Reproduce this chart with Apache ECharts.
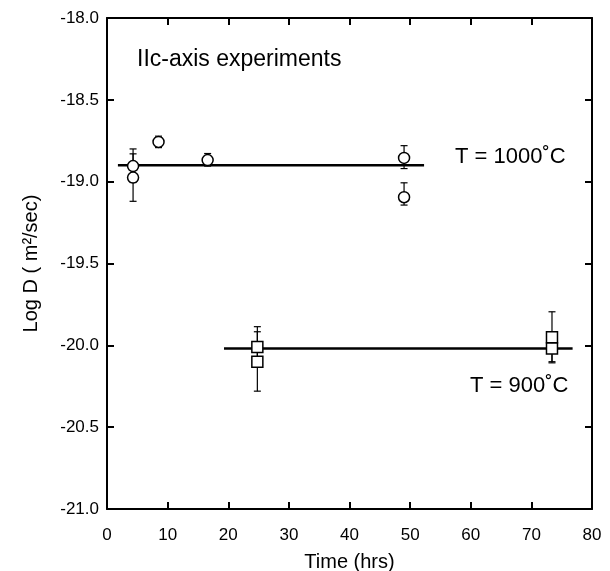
<!DOCTYPE html>
<html>
<head>
<meta charset="utf-8">
<script src="https://cdn.jsdelivr.net/npm/echarts@6/dist/echarts.min.js"></script>
<style>html,body{margin:0;padding:0;background:#fff}#c{width:610px;height:571px}</style>
</head>
<body>
<div id="c"></div>
<script>
// 1000 C experiments (circles)
const circleTime = [4.3, 4.3, 8.5, 16.6, 49.0, 49.0];
const circleLogD = [-18.905, -18.975, -18.757, -18.868, -18.855, -19.095];
const circleErrLow = [-19.005, -19.12, -18.792, -18.905, -18.92, -19.143];
const circleErrHigh = [-18.80, -18.83, -18.722, -18.828, -18.78, -19.007];
// 900 C experiments (squares)
const squareTime = [24.8, 24.8, 73.4, 73.4];
const squareLogD = [-20.01, -20.10, -19.95, -20.02];
const squareErrLow = [-20.13, -20.28, -20.10, -20.107];
const squareErrHigh = [-19.886, -19.917, -19.795, -19.93];
// fitted mean lines
const fit1000Time = [1.8, 52.3];
const fit1000LogD = [-18.90, -18.90];
const fit900Time = [19.3, 76.8];
const fit900LogD = [-20.02, -20.02];
// axes
const xMin = 0, xMax = 80, xStep = 10;
const yMin = -21, yMax = -18, yStep = 0.5;

const FONT = 'Liberation Sans, Arial, sans-serif';
const zip2 = (a, b) => a.map((v, i) => [v, b[i]]);
const zip3 = (a, b, c) => a.map((v, i) => [v, b[i], c[i]]);

function errRender(params, api) {
  const x = api.value(0), lo = api.value(1), hi = api.value(2);
  const p1 = api.coord([x, lo]), p2 = api.coord([x, hi]);
  const w = 3.5;
  const st = {stroke: '#000', lineWidth: 1.2};
  return {type: 'group', children: [
    {type: 'line', shape: {x1: p1[0], y1: p1[1], x2: p2[0], y2: p2[1]}, style: st},
    {type: 'line', shape: {x1: p1[0] - w, y1: p1[1], x2: p1[0] + w, y2: p1[1]}, style: st},
    {type: 'line', shape: {x1: p2[0] - w, y1: p2[1], x2: p2[0] + w, y2: p2[1]}, style: st}
  ]};
}

const axisCommon = {
  axisLine: {show: true, onZero: false, lineStyle: {color: '#000', width: 2}},
  axisTick: {show: true, inside: true, length: 7, lineStyle: {color: '#000', width: 2}},
  splitLine: {show: false}
};

const chart = echarts.init(document.getElementById('c'), null, {renderer: 'canvas'});
chart.setOption({
  animation: false,
  backgroundColor: '#fff',
  grid: {left: 107, right: 18, top: 18, bottom: 62, outerBoundsMode: 'none', containLabel: false},
  xAxis: [
    Object.assign({type: 'value', min: xMin, max: xMax, interval: xStep, position: 'bottom',
      name: 'Time (hrs)', nameLocation: 'middle', nameGap: 43,
      nameTextStyle: {fontFamily: FONT, fontSize: 20, color: '#000'},
      axisLabel: {fontFamily: FONT, fontSize: 17, color: '#000', margin: 18}}, axisCommon),
    Object.assign({type: 'value', min: xMin, max: xMax, interval: xStep, position: 'top',
      axisLabel: {show: false}}, axisCommon)
  ],
  yAxis: [
    Object.assign({type: 'value', min: yMin, max: yMax, interval: yStep, position: 'left',
      name: 'Log D ( m²/sec)', nameLocation: 'middle', nameGap: 66, nameRotate: 90,
      nameTextStyle: {fontFamily: FONT, fontSize: 20, color: '#000'},
      axisLabel: {fontFamily: FONT, fontSize: 17, color: '#000', margin: 8,
        formatter: v => v.toFixed(1)}}, axisCommon),
    Object.assign({type: 'value', min: yMin, max: yMax, interval: yStep, position: 'right',
      axisLabel: {show: false}}, axisCommon)
  ],
  graphic: [
    {type: 'text', left: 137, top: 48, style: {text: 'IIc-axis experiments', font: '23px ' + FONT, fill: '#000'}},
    {type: 'text', left: 455, top: 146, style: {text: 'T = 1000˚C', font: '22px ' + FONT, fill: '#000'}},
    {type: 'text', left: 470, top: 375, style: {text: 'T = 900˚C', font: '22px ' + FONT, fill: '#000'}}
  ],
  series: [
    {type: 'line', data: zip2(fit1000Time, fit1000LogD), symbol: 'none', z: 2,
      lineStyle: {color: '#000', width: 2.5}},
    {type: 'line', data: zip2(fit900Time, fit900LogD), symbol: 'none', z: 2,
      lineStyle: {color: '#000', width: 2.5}},
    {type: 'custom', renderItem: errRender, data: zip3(circleTime, circleErrLow, circleErrHigh), z: 3},
    {type: 'custom', renderItem: errRender, data: zip3(squareTime, squareErrLow, squareErrHigh), z: 3},
    {type: 'scatter', data: zip2(circleTime, circleLogD), symbol: 'circle', symbolSize: 11, z: 5,
      itemStyle: {color: '#fff', borderColor: '#000', borderWidth: 1.5, opacity: 1}},
    {type: 'scatter', data: zip2(squareTime, squareLogD), symbol: 'rect', symbolSize: 11, z: 5,
      itemStyle: {color: '#fff', borderColor: '#000', borderWidth: 1.5, opacity: 1}}
  ]
});
</script>
</body>
</html>
